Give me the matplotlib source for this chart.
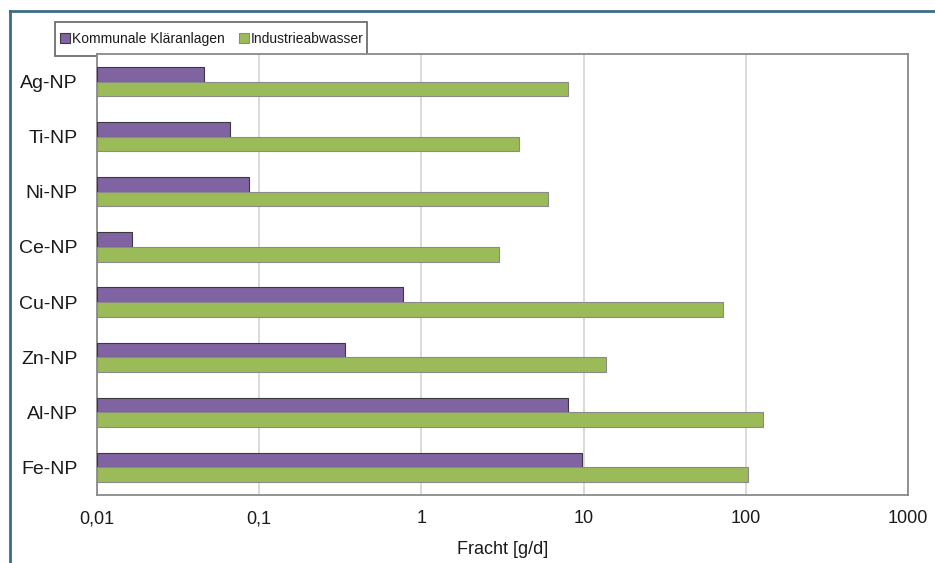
import numpy as np
import matplotlib
matplotlib.use('Agg')
import matplotlib.pyplot as plt
from matplotlib.lines import Line2D
from matplotlib.patches import Rectangle

plt.rcParams['font.family'] = ['Liberation Sans', 'DejaVu Sans']

categories = ['Ag-NP', 'Ti-NP', 'Ni-NP', 'Ce-NP', 'Cu-NP', 'Zn-NP', 'Al-NP', 'Fe-NP']
kommunal = [0.046, 0.066, 0.087, 0.0165, 0.775, 0.34, 8.0, 9.75]
industrie = [8.0, 4.0, 6.0, 3.0, 72.5, 13.8, 127, 103]
series_names = ['Kommunale Kläranlagen', 'Industrieabwasser']
xticks = [0.01, 0.1, 1, 10, 100, 1000]
xtick_labels = ['0,01', '0,1', '1', '10', '100', '1000']

purple = '#8064a2'
green = '#9bbb59'

fig = plt.figure(figsize=(9.35, 5.63), dpi=100)
ax = fig.add_axes([97/935, 1 - 495/563, 811/935, 441/563])

y = np.arange(len(categories))[::-1]
h = 0.265
left = 0.01
ax.barh(y + h/2, np.array(kommunal) - left, left=left, height=h, color=purple,
        edgecolor='#3a3a3a', linewidth=0.8, label=series_names[0], zorder=3)
ax.barh(y - h/2, np.array(industrie) - left, left=left, height=h, color=green,
        edgecolor='#8a8a8a', linewidth=0.8, label=series_names[1], zorder=3)

ax.set_xscale('log')
ax.set_xlim(0.01, 1000)
ax.set_ylim(-0.5, len(categories) - 0.5)
ax.set_xticks(xticks)
ax.set_xticklabels(xtick_labels)
ax.xaxis.set_minor_locator(matplotlib.ticker.NullLocator())
ax.set_yticks(y)
ax.set_yticklabels(categories)
ax.tick_params(axis='y', length=0, pad=14, labelsize=14, colors='#1a1a1a')
ax.tick_params(axis='x', length=0, pad=11, labelsize=13, colors='#1a1a1a')
ax.set_xlabel('Fracht [g/d]', fontsize=13, color='#1a1a1a', labelpad=10)

ax.grid(axis='x', color='#d4d4d4', linewidth=1.2, zorder=0)
for s in ax.spines.values():
    s.set_color('#8a8a8a')
    s.set_linewidth(1.3)

# legend box sits on top of the plot frame, drawn beneath the axes content
fig.add_artist(Rectangle((55/935, 1 - 56/563), 312/935, 34/563, transform=fig.transFigure,
                         facecolor='white', edgecolor='#6e6e6e', linewidth=1.3, zorder=-1))
leg = ax.legend(loc='center', ncol=2,
                bbox_to_anchor=(212/935, 1 - 39/563),
                bbox_transform=fig.transFigure, borderaxespad=0, borderpad=0,
                frameon=False, handlelength=0.7, handleheight=0.7,
                handletextpad=0.15, columnspacing=1.0,
                prop={'size': 10})
for t in leg.get_texts():
    t.set_color('#1a1a1a')

# outer frame lines along top and left
fig.add_artist(Line2D([10/935, 1], [1 - 11/563] * 2, transform=fig.transFigure,
                      color='#3b6c84', linewidth=2))
fig.add_artist(Line2D([10/935] * 2, [0, 1 - 11/563], transform=fig.transFigure,
                      color='#3b6c84', linewidth=2))

fig.savefig('out.png', dpi=100)
